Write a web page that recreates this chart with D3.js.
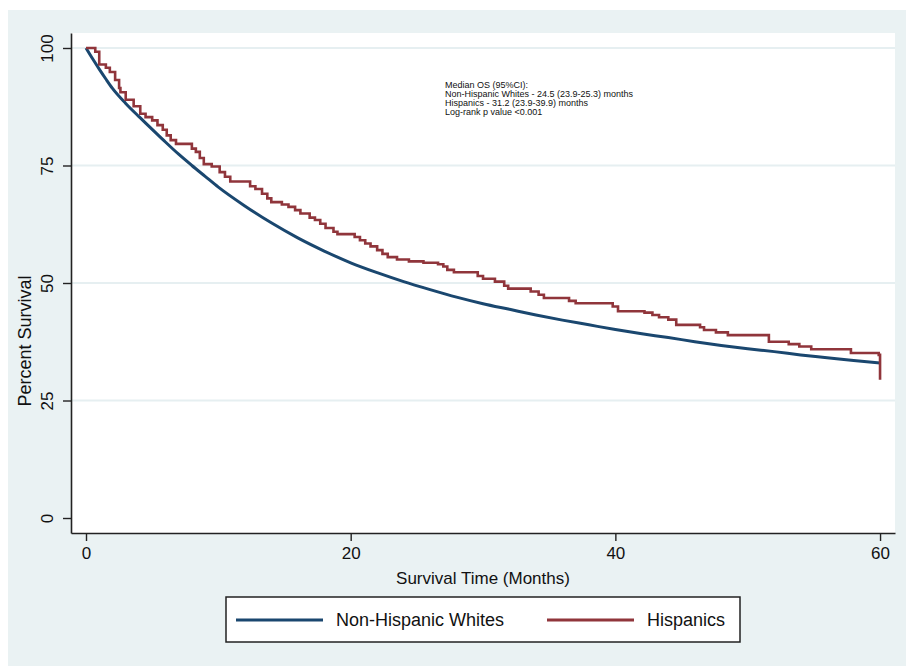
<!DOCTYPE html>
<html>
<head>
<meta charset="utf-8">
<script src="https://cdn.jsdelivr.net/npm/d3@7"></script>
<style>
  body { margin: 0; background: #ffffff; }
  text { font-family: "Liberation Sans", Arial, sans-serif; }
</style>
</head>
<body>
<div id="chart"></div>
<script>
// tick values
var xTicks = [0, 20, 40, 60];
var yTicks = [0, 25, 50, 75, 100];

// Non-Hispanic Whites (months, percent survival) - smooth KM curve
var nhwTime = [0, 0.5, 1, 1.5, 2, 3, 4, 5, 6, 7, 8, 9, 10, 12, 14, 16, 18, 20, 22, 24, 26, 28, 30, 32, 34, 36, 38, 40, 42, 44, 46, 48, 50, 52, 54, 56, 58, 60];
var nhwSurv = [100, 97.7, 95.5, 93.4, 91.4, 88.2, 85.4, 82.7, 80.0, 77.4, 75.0, 72.7, 70.4, 66.4, 62.8, 59.6, 56.8, 54.3, 52.2, 50.3, 48.6, 47.0, 45.6, 44.4, 43.2, 42.1, 41.1, 40.1, 39.2, 38.4, 37.5, 36.7, 36.0, 35.4, 34.7, 34.1, 33.5, 33.0];

// Hispanics - step KM curve (time of each drop, survival after drop)
var hisTime = [0, 0.7, 1.0, 1.5, 1.8, 2.2, 2.5, 2.6, 3.0, 3.6, 4.1, 4.5, 5.0, 5.4, 5.8, 6.1, 6.4, 6.8, 8.0, 8.3, 8.6, 8.9, 9.5, 10.1, 10.5, 10.9, 12.4, 12.8, 13.3, 13.7, 14.0, 14.8, 15.3, 15.8, 16.2, 16.9, 17.3, 17.7, 18.1, 18.7, 19.0, 20.3, 20.7, 21.1, 21.5, 22.0, 22.4, 22.8, 23.5, 24.4, 25.5, 26.6, 27.0, 27.3, 27.8, 29.6, 30.0, 30.9, 31.6, 31.9, 33.6, 34.2, 34.6, 36.5, 37.0, 39.8, 40.2, 42.2, 42.8, 43.3, 44.0, 44.6, 46.4, 46.7, 47.6, 48.5, 51.6, 53.1, 53.9, 54.8, 57.8, 59.9, 60];
var hisSurv = [100, 99.2, 96.5, 95.8, 94.9, 93.2, 91.5, 90.6, 89.0, 87.6, 86.0, 85.3, 84.6, 83.6, 82.6, 81.4, 80.4, 79.6, 78.6, 77.9, 76.6, 75.3, 74.8, 73.6, 72.6, 71.6, 70.6, 70.0, 69.0, 68.0, 67.2, 66.7, 66.2, 65.5, 64.8, 63.9, 63.4, 62.6, 61.7, 60.9, 60.4, 59.8, 59.1, 58.4, 57.8, 57.0, 56.2, 55.5, 55.0, 54.6, 54.3, 54.0, 53.5, 52.8, 52.3, 51.5, 50.9, 50.3, 49.4, 48.8, 48.2, 47.5, 46.8, 46.2, 45.7, 45.0, 44.0, 43.7, 43.2, 42.7, 42.2, 41.1, 40.6, 40.0, 39.5, 38.9, 37.5, 37.0, 36.5, 35.9, 35.1, 34.7, 29.4];

var seriesNames = ["Non-Hispanic Whites", "Hispanics"];
var seriesColors = ["#1a476f", "#90353b"];

var noteLines = [
  "Median OS (95%CI):",
  "Non-Hispanic Whites - 24.5 (23.9-25.3) months",
  "Hispanics - 31.2 (23.9-39.9) months",
  "Log-rank p value <0.001"
];

var width = 906;
var height = 666;
var plot = { left: 71, right: 895, top: 33, bottom: 533 };

var svg = d3
  .select("#chart")
  .append("svg")
  .attr("width", width)
  .attr("height", height);

// Stata-like outer background
svg
  .append("rect")
  .attr("x", 8)
  .attr("y", 10)
  .attr("width", width - 8)
  .attr("height", height - 10)
  .attr("fill", "#eaf2f3");

svg
  .append("rect")
  .attr("x", plot.left)
  .attr("y", plot.top)
  .attr("width", plot.right - plot.left)
  .attr("height", plot.bottom - plot.top)
  .attr("fill", "#ffffff");

// scales (domain slightly padded like stata)
var xScale = d3.scaleLinear().domain([-1.134, 61.13]).range([plot.left, plot.right]);
var yScale = d3.scaleLinear().domain([-3.19, 103.19]).range([plot.bottom, plot.top]);

// gridlines
svg
  .append("g")
  .selectAll("line")
  .data(yTicks.filter((d) => d > 0))
  .enter()
  .append("line")
  .attr("x1", plot.left)
  .attr("x2", plot.right)
  .attr("y1", (d) => yScale(d))
  .attr("y2", (d) => yScale(d))
  .attr("stroke", "#e6eff1")
  .attr("stroke-width", 2);

// axes
var xAxis = svg
  .append("g")
  .attr("transform", "translate(0," + plot.bottom + ")")
  .call(d3.axisBottom(xScale).tickValues(xTicks).tickSize(8).tickSizeOuter(0).tickPadding(6));

xAxis.select(".domain").attr("stroke", "#222").attr("stroke-width", 1.6);
xAxis.selectAll(".tick line").attr("stroke", "#222").attr("stroke-width", 1.4);
xAxis
  .selectAll("text")
  .attr("fill", "#111")
  .style("font-size", "17px")
  .style("font-family", "Liberation Sans, Arial, sans-serif");

var yAxis = svg
  .append("g")
  .attr("transform", "translate(" + plot.left + ",0)")
  .call(d3.axisLeft(yScale).tickValues(yTicks).tickSize(8).tickSizeOuter(0));

yAxis.select(".domain").attr("stroke", "#222").attr("stroke-width", 1.6);
yAxis.selectAll(".tick line").attr("stroke", "#222").attr("stroke-width", 1.4);
yAxis
  .selectAll("text")
  .attr("fill", "#111")
  .attr("x", 0)
  .attr("dy", 0)
  .attr("transform", "translate(-18,0) rotate(-90)")
  .style("text-anchor", "middle")
  .style("font-size", "17px")
  .style("font-family", "Liberation Sans, Arial, sans-serif");

// axis titles
svg
  .append("text")
  .attr("x", (plot.left + plot.right) / 2)
  .attr("y", 584)
  .attr("text-anchor", "middle")
  .attr("fill", "#111")
  .style("font-size", "17px")
  .text("Survival Time (Months)");

svg
  .append("text")
  .attr("transform", "translate(31,341) rotate(-90)")
  .attr("text-anchor", "middle")
  .attr("fill", "#111")
  .style("font-size", "18px")
  .text("Percent Survival");

// curves
var nhwData = nhwTime.map((t, i) => [t, nhwSurv[i]]);
var hisData = hisTime.map((t, i) => [t, hisSurv[i]]);

var smoothLine = d3
  .line()
  .x((d) => xScale(d[0]))
  .y((d) => yScale(d[1]))
  .curve(d3.curveMonotoneX);

var stepLine = d3
  .line()
  .x((d) => xScale(d[0]))
  .y((d) => yScale(d[1]))
  .curve(d3.curveStepAfter);

svg
  .append("path")
  .datum(nhwData)
  .attr("d", smoothLine)
  .attr("fill", "none")
  .attr("stroke", seriesColors[0])
  .attr("stroke-width", 3);

svg
  .append("path")
  .datum(hisData)
  .attr("d", stepLine)
  .attr("fill", "none")
  .attr("stroke", seriesColors[1])
  .attr("stroke-width", 2.6);

// annotation
var note = svg
  .append("text")
  .attr("x", 445)
  .attr("y", 88)
  .attr("fill", "#111")
  .style("font-size", "9px");

note
  .selectAll("tspan")
  .data(noteLines)
  .enter()
  .append("tspan")
  .attr("x", 445)
  .attr("dy", (d, i) => (i === 0 ? 0 : 9))
  .text((d) => d);

// legend
var legend = svg.append("g");

legend
  .append("rect")
  .attr("x", 226)
  .attr("y", 597)
  .attr("width", 514)
  .attr("height", 45)
  .attr("fill", "#ffffff")
  .attr("stroke", "#222")
  .attr("stroke-width", 1.5);

var legendX = [236, 547];
seriesNames.forEach(function (name, i) {
  legend
    .append("line")
    .attr("x1", legendX[i])
    .attr("x2", legendX[i] + 87)
    .attr("y1", 620)
    .attr("y2", 620)
    .attr("stroke", seriesColors[i])
    .attr("stroke-width", 3);

  legend
    .append("text")
    .attr("x", legendX[i] + 100)
    .attr("y", 626)
    .attr("fill", "#111")
    .style("font-size", "18px")
    .text(name);
});
</script>
</body>
</html>
